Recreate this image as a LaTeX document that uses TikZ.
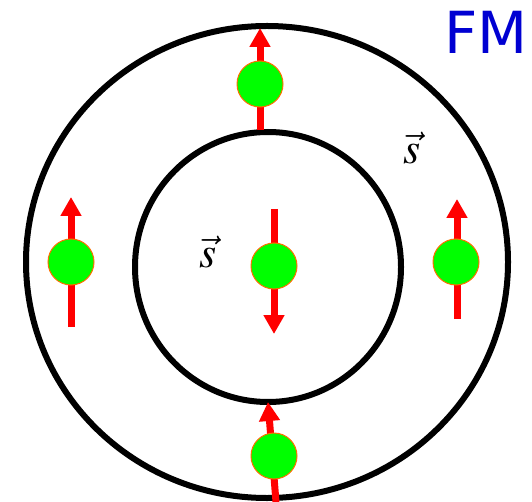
\documentclass[tikz,border=0pt]{standalone}
\usepackage{mathptmx}
\usepackage{fontspec}
\usepackage{tikz}
\usetikzlibrary{arrows.meta}
\definecolor{spinred}{RGB}{255,0,0}
\definecolor{ballgreen}{RGB}{0,255,0}
\definecolor{ballrim}{RGB}{255,110,0}
\definecolor{fmblue}{RGB}{0,0,210}
\newfontfamily\labelfont{DejaVu Sans}
\tikzset{
  ring/.style={draw=black, line width=6pt},
  spin/.style={draw=spinred, line width=7pt, -{Triangle[width=20pt,length=19pt]}},
  ball/.style={circle, fill=ballgreen, draw=ballrim, line width=1pt, minimum size=46pt, inner sep=0pt}
}
\begin{document}
\begin{tikzpicture}[x=1pt, y=-1pt]
  \useasboundingbox (0,0) rectangle (532,502);
  \draw[ring] (267,262) ellipse [x radius=241, y radius=236];
  \draw[ring] (268,267) ellipse [x radius=133, y radius=135];
  \foreach \name/\bx/\by/\tx/\ty/\hx/\hy in {
      top/260/84/260/130/260/28,
      left/71/262/71/327/71/197,
      right/456/262/457/319/457/199,
      mid/274/266/274/209/274/334,
      bot/274/456/276/502/268/402}{
    \coordinate (\name-tail) at (\tx,\ty);
    \coordinate (\name-tip) at (\hx,\hy);
    \draw[spin] (\name-tail) -- (\name-tip);
    \node[ball] (\name) at (\bx,\by) {};
  }
  \node (sin) at (208,252) {\fontsize{44}{44}\selectfont$\vec{s}$};
  \node (sout) at (412,148) {\fontsize{44}{44}\selectfont$\vec{s}$};
  \node[text=fmblue] (fm) at (486,32) {\labelfont\fontsize{58}{58}\selectfont FM};
\end{tikzpicture}
\end{document}
